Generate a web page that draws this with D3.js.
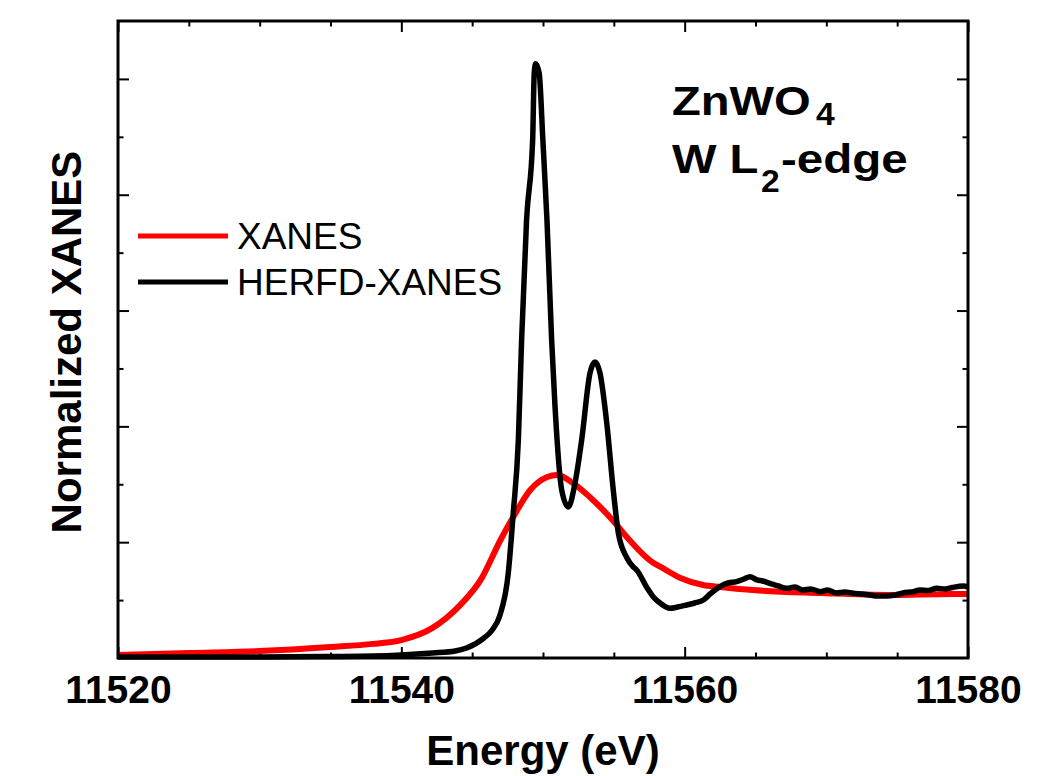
<!DOCTYPE html>
<html><head><meta charset="utf-8">
<script src="https://cdn.jsdelivr.net/npm/d3@7/dist/d3.min.js"></script>
<style>body{margin:0;background:#fff;} svg{display:block;}</style>
</head><body><svg id="c" width="1056" height="776"></svg>
<script>
// ---- data ----
const xanesE = [11520, 11525, 11530, 11535, 11538, 11540, 11542.2, 11544.1, 11545.6, 11547, 11547.9, 11549.1, 11550.3, 11551, 11552.1, 11553.3, 11554.9, 11556.1, 11557.8, 11558.3, 11559.7, 11561.3, 11562.5, 11564.8, 11569.6, 11574.3, 11578.9, 11580];
const xanesV = [0.026, 0.043, 0.06, 0.095, 0.122, 0.155, 0.26, 0.45, 0.674, 1.019, 1.218, 1.451, 1.563, 1.58, 1.511, 1.39, 1.192, 1.019, 0.82, 0.786, 0.691, 0.63, 0.613, 0.587, 0.561, 0.544, 0.553, 0.553];

const herfdE = [11520, 11525, 11530, 11535, 11538, 11540, 11542.2, 11543.8, 11544.6, 11545.8, 11546.4, 11546.96, 11547.55, 11547.9, 11548.26, 11548.49, 11548.84, 11549.27, 11549.38, 11549.48, 11549.73, 11549.99, 11550.28, 11550.61, 11550.85, 11551.32, 11551.79, 11552.26, 11552.73, 11553.32, 11553.67, 11554.02, 11554.5, 11554.96, 11555.32, 11555.9, 11556.37, 11556.61, 11557.31, 11557.79, 11558.26, 11558.96, 11559.5, 11560.14, 11560.7, 11561.32, 11561.8, 11562.49, 11563.06, 11563.67, 11564.19, 11564.61, 11565.1, 11565.5, 11566.02, 11566.6, 11567.2, 11567.8, 11568.35, 11568.9, 11569.55, 11570.1, 11570.7, 11571.3, 11571.9, 11572.5, 11573.1, 11573.6, 11574.26, 11574.85, 11575.4, 11576.14, 11576.6, 11577.2, 11577.79, 11578.4, 11578.9, 11579.67, 11580];
const herfdV = [0.009, 0.009, 0.009, 0.013, 0.017, 0.026, 0.043, 0.06, 0.086, 0.17, 0.24, 0.37, 0.734, 1.252, 1.883, 2.746, 3.782, 4.473, 5.05, 5.13, 5.05, 4.473, 3.782, 2.746, 2.168, 1.451, 1.304, 1.511, 1.883, 2.461, 2.556, 2.461, 2.029, 1.451, 1.079, 0.87, 0.786, 0.76, 0.613, 0.527, 0.475, 0.429, 0.44, 0.458, 0.475, 0.501, 0.553, 0.616, 0.648, 0.659, 0.682, 0.702, 0.674, 0.665, 0.645, 0.622, 0.602, 0.613, 0.587, 0.596, 0.573, 0.587, 0.561, 0.57, 0.559, 0.553, 0.544, 0.535, 0.535, 0.544, 0.561, 0.573, 0.587, 0.583, 0.602, 0.596, 0.609, 0.622, 0.613];

const xTickLabels = [11520, 11540, 11560, 11580];
const xMinorTicks = [11525, 11530, 11535, 11545, 11550, 11555, 11565, 11570, 11575];
const yMajorTicks = [1, 2, 3, 4, 5];
const yMinorTicks = [0.5, 1.5, 2.5, 3.5, 4.5];
const seriesNames = ["XANES", "HERFD-XANES"];
const seriesColors = ["#ff0000", "#000000"];

// ---- layout ----
const L = 118, R = 968, T = 21, B = 658;
const FONT = "'Liberation Sans', Arial, Helvetica, sans-serif";
const svg = d3.select("#c");
const x = d3.scaleLinear().domain([11520, 11580]).range([L, R]);
const y = d3.scaleLinear().domain([0, 5.5]).range([B, T]);

function tickAxis(gen, scale, vals, size, tx, ty) {
  const g = svg.append("g").attr("transform", `translate(${tx},${ty})`)
    .call(gen(scale).tickValues(vals).tickSizeInner(size).tickSizeOuter(0).tickFormat(""));
  g.select(".domain").remove();
  g.selectAll(".tick line").attr("stroke", "#000").attr("stroke-width", 2);
  return g;
}
const MAJ = 11, MIN = 5.5;
tickAxis(d3.axisBottom, x, xTickLabels, -MAJ, 0, B);
tickAxis(d3.axisBottom, x, xMinorTicks, -MIN, 0, B);
tickAxis(d3.axisTop, x, xTickLabels, -MAJ, 0, T);
tickAxis(d3.axisTop, x, xMinorTicks, -MIN, 0, T);
tickAxis(d3.axisLeft, y, yMajorTicks, -MAJ, L, 0);
tickAxis(d3.axisLeft, y, yMinorTicks, -MIN, L, 0);
tickAxis(d3.axisRight, y, yMajorTicks, -MAJ, R, 0);
tickAxis(d3.axisRight, y, yMinorTicks, -MIN, R, 0);

// tick labels
const lab = svg.append("g").attr("transform", `translate(0,${B})`)
  .call(d3.axisBottom(x).tickValues(xTickLabels).tickSize(0).tickPadding(17).tickFormat(d3.format("d")));
lab.select(".domain").remove();
lab.selectAll("text").attr("font-family", FONT).attr("font-weight", "bold").attr("font-size", 39).attr("fill", "#000");

// lines
const line = d3.line().x(d => x(d[0])).y(d => y(d[1])).curve(d3.curveMonotoneX);
const redData = xanesE.map((e, i) => [e, xanesV[i]]);
const blkData = herfdE.map((e, i) => [e, herfdV[i]]);
svg.append("path").datum(redData).attr("d", line).attr("fill", "none")
  .attr("stroke", seriesColors[0]).attr("stroke-width", 6).attr("stroke-linejoin", "round");
svg.append("path").datum(blkData).attr("d", line).attr("fill", "none")
  .attr("stroke", seriesColors[1]).attr("stroke-width", 5.5).attr("stroke-linejoin", "round");

// frame
svg.append("rect").attr("x", L).attr("y", T).attr("width", R - L).attr("height", B - T)
  .attr("fill", "none").attr("stroke", "#000").attr("stroke-width", 3);

// axis titles
svg.append("text").attr("x", (L + R) / 2).attr("y", 765).attr("text-anchor", "middle")
  .attr("font-family", FONT).attr("font-weight", "bold").attr("font-size", 42).text("Energy (eV)");
svg.append("text").attr("transform", "translate(81,342) rotate(-90)").attr("text-anchor", "middle")
  .attr("font-family", FONT).attr("font-weight", "bold").attr("font-size", 42).text("Normalized XANES");

// legend
const legY = [236, 282];
seriesNames.forEach((n, i) => {
  svg.append("line").attr("x1", 138).attr("x2", 228).attr("y1", legY[i]).attr("y2", legY[i])
    .attr("stroke", seriesColors[i]).attr("stroke-width", 5);
  svg.append("text").attr("x", 237).attr("y", legY[i] + 13).attr("font-family", FONT)
    .attr("font-size", 37).attr("fill", "#000").text(n);
});

// annotation (horizontally widened bold text)
function t(xp, yp, s, size, sx) {
  return svg.append("text").attr("transform", `translate(${xp},${yp}) scale(${sx},1)`)
    .attr("font-family", FONT).attr("font-weight", "bold").attr("font-size", size)
    .attr("fill", "#000").text(s);
}
t(672, 115, "ZnWO", 41, 1.15);
t(816, 125, "4", 32, 1.05);
t(672, 173, "W L", 41, 1.15);
t(761, 192, "2", 32, 1.05);
t(781, 173, "-edge", 41, 1.16);
</script></body></html>
